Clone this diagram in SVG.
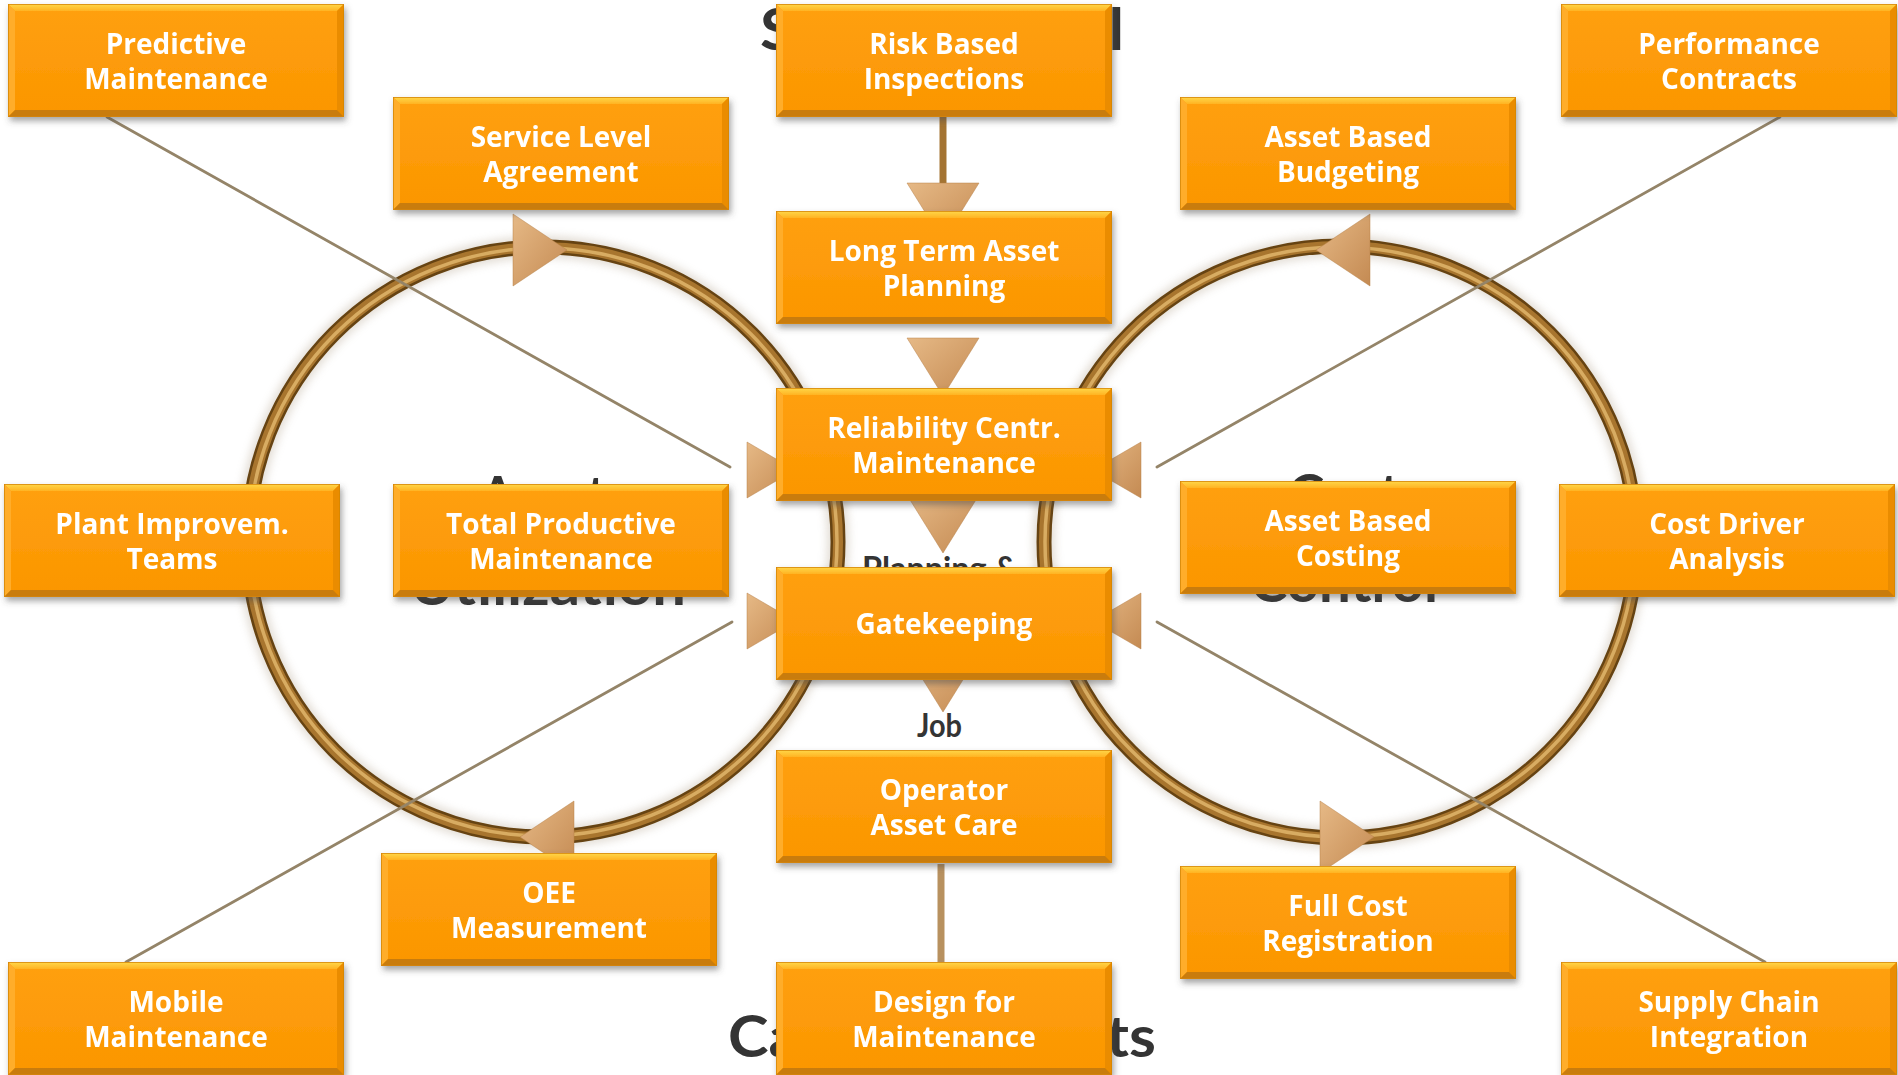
<svg xmlns="http://www.w3.org/2000/svg" xmlns:xlink="http://www.w3.org/1999/xlink" width="1898" height="1075" viewBox="0 0 1898 1075">
  <style>
    .bg-label { font-family: Lato, "Liberation Sans", sans-serif; font-weight: 700; fill: #343434; }
    .node-text { font-family: "Open Sans", "DejaVu Sans", sans-serif; font-weight: 700; font-size: 28px; fill: #ffffff; text-anchor: middle; }
    .thin-link { fill: none; stroke: #948468; stroke-width: 2.8; stroke-linecap: round; }
    .stem { fill: none; stroke-width: 7; }
    .head { fill: url(#headFill); stroke: #b57f45; stroke-width: 0.8; stroke-opacity: 0.6; }
    .ring-halo { fill: none; stroke: #b0a08a; stroke-width: 22; opacity: 0.35; }
    .ring-edge { fill: none; stroke: #664312; stroke-width: 15; }
    .ring-body { fill: none; stroke: #a8752e; stroke-width: 10; }
    .ring-shine { fill: none; stroke: #d8ac62; stroke-width: 3.5; }
  </style>
  <defs>
    <linearGradient id="headFill" x1="0" y1="0" x2="1" y2="1">
      <stop offset="0" stop-color="#e6b986"/>
      <stop offset="1" stop-color="#c48a52"/>
    </linearGradient>
    <linearGradient id="boxFill" x1="0" y1="0" x2="0" y2="1">
      <stop offset="0" stop-color="#ffa010"/>
      <stop offset="1" stop-color="#fb9600"/>
    </linearGradient>
    <linearGradient id="topBevel" x1="0" y1="0" x2="0" y2="1">
      <stop offset="0" stop-color="#ffd84a"/>
      <stop offset="1" stop-color="#ffb322"/>
    </linearGradient>
    <filter id="boxShadow" x="-5%" y="-10%" width="112%" height="130%">
      <feDropShadow dx="2" dy="4" stdDeviation="3" flood-color="#4a4a4a" flood-opacity="0.5"/>
    </filter>
    <filter id="ringHalo" x="-10%" y="-10%" width="120%" height="120%">
      <feGaussianBlur stdDeviation="4"/>
    </filter>
    <!-- bevelled orange box, 336 x 113 -->
    <g id="box">
      <rect x="0" y="0" width="336" height="113" fill="url(#boxFill)"/>
      <polygon points="0,0 336,0 329,7 7,7" fill="url(#topBevel)"/>
      <polygon points="0,0 7,7 7,106 0,113" fill="#ffad2c"/>
      <polygon points="336,0 336,113 329,106 329,7" fill="#ea8c00"/>
      <polygon points="0,113 7,106 329,106 336,113" fill="#c97b0c"/>
      <rect x="0.4" y="0.4" width="335.2" height="112.2" fill="none" stroke="#d58608" stroke-width="0.8"/>
    </g>
  </defs>

  <rect width="1898" height="1075" fill="#ffffff"/>

  <!-- large labels behind the boxes -->
  <g id="background-labels">
    <text class="bg-label" x="760" y="50" font-size="58" textLength="364" lengthAdjust="spacingAndGlyphs">Service Level</text>
    <text class="bg-label" x="728" y="1057" font-size="58" textLength="428" lengthAdjust="spacingAndGlyphs">Capital Projects</text>
    <text class="bg-label" x="480" y="516" font-size="56" textLength="126" lengthAdjust="spacingAndGlyphs">Asset</text>
    <text class="bg-label" x="410" y="605" font-size="56" textLength="276" lengthAdjust="spacingAndGlyphs">Utilization</text>
    <text class="bg-label" x="1288" y="514" font-size="56" textLength="112" lengthAdjust="spacingAndGlyphs">Cost</text>
    <text class="bg-label" x="1250" y="602" font-size="56" textLength="188" lengthAdjust="spacingAndGlyphs">Control</text>
    <text class="bg-label" x="862" y="580" font-size="32" textLength="156" lengthAdjust="spacingAndGlyphs" fill="#444">Planning &amp;</text>
    <text class="bg-label" x="917" y="737" font-size="32" textLength="45" lengthAdjust="spacingAndGlyphs" fill="#444">Job</text>
  </g>

  <!-- the two cycles -->
  <g id="cycles">
    <circle class="ring-halo" cx="543" cy="542" r="295" filter="url(#ringHalo)"/>
    <circle class="ring-halo" cx="1340" cy="542" r="296" filter="url(#ringHalo)"/>
    <circle class="ring-edge" cx="543" cy="542" r="295"/>
    <circle class="ring-body" cx="543" cy="542" r="295"/>
    <circle class="ring-shine" cx="543" cy="542" r="294"/>
    <circle class="ring-edge" cx="1340" cy="542" r="296"/>
    <circle class="ring-body" cx="1340" cy="542" r="296"/>
    <circle class="ring-shine" cx="1340" cy="542" r="295"/>
    <polygon class="head" points="513,214 513,286 567,250"/>
    <polygon class="head" points="574,801 574,873 520,837"/>
    <polygon class="head" points="1370,214 1370,286 1316,250"/>
    <polygon class="head" points="1320,801 1320,873 1374,837"/>
  </g>

  <!-- connectors -->
  <g id="connectors">
    <path class="thin-link" d="M107,117 L730,467"/>
    <path class="thin-link" d="M1780,117 L1157,467"/>
    <path class="thin-link" d="M126,962 L732,622"/>
    <path class="thin-link" d="M1765,962 L1157,622"/>
    <path class="stem" stroke="#a47432" d="M943,117 V186"/>
    <path class="stem" stroke="#b8915f" d="M941,864 V962"/>
    <polygon class="head" points="907,183 979,183 943,241"/>
    <polygon class="head" points="907,338 979,338 943,396"/>
    <polygon class="head" points="907,495 979,495 943,553"/>
    <polygon class="head" points="907,654 979,654 943,712"/>
    <polygon class="head" points="747,442 747,498 795,470"/>
    <polygon class="head" points="747,593 747,649 795,621"/>
    <polygon class="head" points="1141,442 1141,498 1093,470"/>
    <polygon class="head" points="1141,593 1141,649 1093,621"/>
  </g>

  <!-- nodes -->
  <g id="predictive-maintenance" filter="url(#boxShadow)">
    <use href="#box" x="8" y="4"/>
    <text class="node-text" x="176" y="54">Predictive</text>
    <text class="node-text" x="176" y="89">Maintenance</text>
  </g>
  <g id="service-level-agreement" filter="url(#boxShadow)">
    <use href="#box" x="393" y="97"/>
    <text class="node-text" x="561" y="147">Service Level</text>
    <text class="node-text" x="561" y="182">Agreement</text>
  </g>
  <g id="risk-based-inspections" filter="url(#boxShadow)">
    <use href="#box" x="776" y="4"/>
    <text class="node-text" x="944" y="54">Risk Based</text>
    <text class="node-text" x="944" y="89">Inspections</text>
  </g>
  <g id="asset-based-budgeting" filter="url(#boxShadow)">
    <use href="#box" x="1180" y="97"/>
    <text class="node-text" x="1348" y="147">Asset Based</text>
    <text class="node-text" x="1348" y="182">Budgeting</text>
  </g>
  <g id="performance-contracts" filter="url(#boxShadow)">
    <use href="#box" x="1561" y="4"/>
    <text class="node-text" x="1729" y="54">Performance</text>
    <text class="node-text" x="1729" y="89">Contracts</text>
  </g>
  <g id="long-term-asset-planning" filter="url(#boxShadow)">
    <use href="#box" x="776" y="211"/>
    <text class="node-text" x="944" y="261">Long Term Asset</text>
    <text class="node-text" x="944" y="296">Planning</text>
  </g>
  <g id="reliability-centred-maintenance" filter="url(#boxShadow)">
    <use href="#box" x="776" y="388"/>
    <text class="node-text" x="944" y="438">Reliability Centr.</text>
    <text class="node-text" x="944" y="473">Maintenance</text>
  </g>
  <g id="plant-improvement-teams" filter="url(#boxShadow)">
    <use href="#box" x="4" y="484"/>
    <text class="node-text" x="172" y="534">Plant Improvem.</text>
    <text class="node-text" x="172" y="569">Teams</text>
  </g>
  <g id="total-productive-maintenance" filter="url(#boxShadow)">
    <use href="#box" x="393" y="484"/>
    <text class="node-text" x="561" y="534">Total Productive</text>
    <text class="node-text" x="561" y="569">Maintenance</text>
  </g>
  <g id="asset-based-costing" filter="url(#boxShadow)">
    <use href="#box" x="1180" y="481"/>
    <text class="node-text" x="1348" y="531">Asset Based</text>
    <text class="node-text" x="1348" y="566">Costing</text>
  </g>
  <g id="cost-driver-analysis" filter="url(#boxShadow)">
    <use href="#box" x="1559" y="484"/>
    <text class="node-text" x="1727" y="534">Cost Driver</text>
    <text class="node-text" x="1727" y="569">Analysis</text>
  </g>
  <g id="gatekeeping" filter="url(#boxShadow)">
    <use href="#box" x="776" y="567"/>
    <text class="node-text" x="944" y="634">Gatekeeping</text>
  </g>
  <g id="operator-asset-care" filter="url(#boxShadow)">
    <use href="#box" x="776" y="750"/>
    <text class="node-text" x="944" y="800">Operator</text>
    <text class="node-text" x="944" y="835">Asset Care</text>
  </g>
  <g id="oee-measurement" filter="url(#boxShadow)">
    <use href="#box" x="381" y="853"/>
    <text class="node-text" x="549" y="903">OEE</text>
    <text class="node-text" x="549" y="938">Measurement</text>
  </g>
  <g id="full-cost-registration" filter="url(#boxShadow)">
    <use href="#box" x="1180" y="866"/>
    <text class="node-text" x="1348" y="916">Full Cost</text>
    <text class="node-text" x="1348" y="951">Registration</text>
  </g>
  <g id="mobile-maintenance" filter="url(#boxShadow)">
    <use href="#box" x="8" y="962"/>
    <text class="node-text" x="176" y="1012">Mobile</text>
    <text class="node-text" x="176" y="1047">Maintenance</text>
  </g>
  <g id="design-for-maintenance" filter="url(#boxShadow)">
    <use href="#box" x="776" y="962"/>
    <text class="node-text" x="944" y="1012">Design for</text>
    <text class="node-text" x="944" y="1047">Maintenance</text>
  </g>
  <g id="supply-chain-integration" filter="url(#boxShadow)">
    <use href="#box" x="1561" y="962"/>
    <text class="node-text" x="1729" y="1012">Supply Chain</text>
    <text class="node-text" x="1729" y="1047">Integration</text>
  </g>
</svg>
